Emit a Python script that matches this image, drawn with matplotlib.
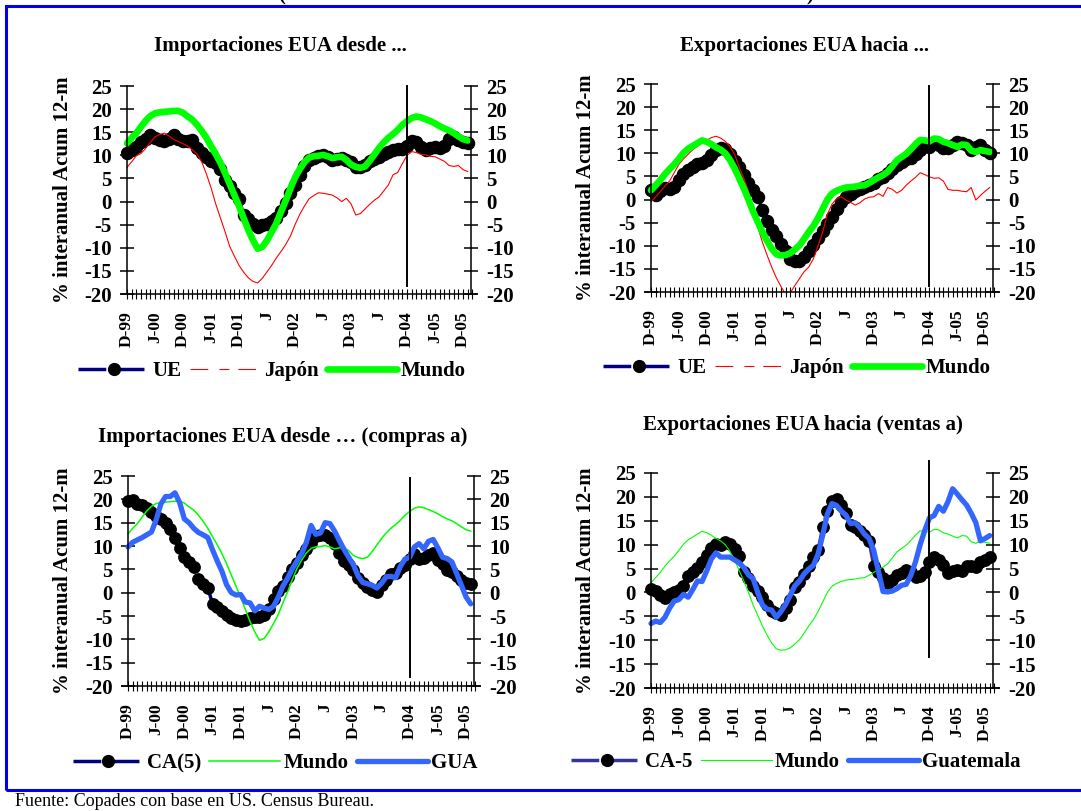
import matplotlib
matplotlib.use("Agg")
import matplotlib.pyplot as plt
from matplotlib.lines import Line2D
from matplotlib.patches import Rectangle

plt.rcParams['font.family'] = ['Liberation Serif', 'DejaVu Serif']
plt.rcParams['axes.unicode_minus'] = False

# ---------------- data (monthly, Dec-1999 .. Jan-2006) ----------------
tick_labels = ['D-99', 'J-00', 'D-00', 'J-01', 'D-01', 'J', 'D-02', 'J',
               'D-03', 'J', 'D-04', 'J-05', 'D-05']

imp_ue = [10.6, 11.2, 11.8, 12.8, 13.6, 14.3, 13.8, 13.3, 13.0, 13.5,
          14.3, 13.6, 13.0, 13.2, 13.3, 11.5, 10.6, 9.6, 8.8, 8.3,
          7.0, 4.6, 3.4, 1.8, 0.5, -2.9, -3.8, -4.8, -5.4, -5.1,
          -4.8, -4.3, -3.6, -2.0, -0.4, 1.8, 3.6, 5.8, 7.8, 8.9,
          9.4, 9.8, 10.1, 9.6, 9.0, 9.2, 9.4, 9.0, 8.6, 7.4,
          7.4, 8.0, 8.8, 9.1, 9.6, 10.2, 10.8, 11.2, 11.3, 11.4,
          12.0, 13.0, 12.9, 11.9, 11.2, 11.6, 11.8, 11.5, 12.0, 13.5,
          13.9, 13.3, 12.9, 12.6]

imp_japon = [7.4, 8.6, 9.9, 10.4, 11.5, 12.8, 14.0, 14.5, 14.8, 14.2,
             13.4, 13.0, 12.5, 12.0, 11.2, 10.3, 8.6, 6.0, 3.0, -0.5,
             -3.5, -6.5, -9.7, -11.8, -13.8, -15.3, -16.5, -17.3, -17.6, -16.6,
             -15.2, -13.8, -12.2, -10.8, -9.3, -7.5, -5.0, -2.8, -1.0, 0.6,
             1.3, 1.9, 1.8, 1.6, 1.4, 0.8, 0.0, 0.7, -0.5, -2.9,
             -2.6, -1.6, -0.6, 0.3, 1.0, 2.3, 3.6, 5.8, 6.3, 8.2,
             10.0, 10.8, 10.6, 10.2, 10.1, 9.8, 9.7, 9.2, 8.7, 7.8,
             7.6, 7.8, 6.9, 6.5]

imp_mundo = [12.6, 13.8, 14.8, 16.2, 17.5, 18.5, 19.1, 19.3, 19.4, 19.5,
             19.6, 19.6, 19.2, 18.4, 17.7, 16.6, 15.3, 13.8, 12.0, 10.3,
             8.4, 6.2, 3.8, 1.4, -1.0, -3.6, -6.2, -8.4, -10.2, -9.8,
             -8.4, -6.6, -4.7, -2.2, 0.2, 2.8, 5.2, 7.0, 8.5, 9.5,
             9.8, 9.9, 10.1, 9.8, 9.4, 9.6, 9.7, 9.0, 8.0, 7.5,
             7.3, 7.6, 8.8, 10.2, 11.6, 12.8, 13.8, 14.6, 15.5, 16.6,
             17.4, 18.1, 18.4, 18.2, 17.8, 17.4, 16.9, 16.3, 15.8, 15.4,
             14.8, 14.1, 13.5, 13.2]

exp_ue = [2.0, 1.0, 1.8, 2.4, 2.2, 2.8, 4.3, 5.6, 6.4, 7.0,
          7.6, 8.0, 8.6, 9.6, 10.8, 11.2, 11.0, 9.8, 8.4, 7.0,
          5.4, 3.6, 2.0, 0.6, -2.2, -4.6, -6.6, -7.8, -9.6, -11.2,
          -12.9, -13.4, -13.2, -12.4, -11.1, -9.8, -8.3, -6.8, -5.3, -3.8,
          -2.0, -0.6, 0.6, 1.3, 1.8, 2.3, 2.8, 3.1, 3.6, 4.4,
          4.9, 5.8, 6.6, 7.4, 8.2, 8.7, 8.9, 9.8, 10.8, 11.6,
          11.4, 12.3, 11.8, 11.2, 11.1, 11.8, 12.5, 12.3, 11.8, 10.8,
          11.3, 11.8, 10.8, 10.1]

exp_japon = [-0.5, 0.6, 1.7, 2.9, 4.0, 5.8, 7.6, 8.8, 9.8, 10.8,
             11.5, 12.3, 12.8, 13.4, 13.7, 13.3, 12.6, 11.5, 9.8, 7.0,
             4.6, 1.8, -2.6, -5.9, -9.2, -12.0, -14.6, -16.9, -18.8, -20.5,
             -20.2, -18.6, -17.1, -15.6, -14.6, -12.8, -10.0, -7.0, -3.2, -1.0,
             0.2, 0.6, -0.1, -0.6, -1.2, -0.7, 0.1, 0.5, 0.6, 1.3,
             0.7, 2.6, 2.2, 1.4, 2.0, 3.1, 4.0, 4.8, 5.8, 5.4,
             4.9, 4.6, 4.7, 4.0, 2.2, 2.0, 2.0, 1.8, 1.7, 2.6,
             -0.1, 0.9, 1.8, 2.6]

exp_mundo = [2.0, 3.1, 4.2, 5.5, 6.6, 7.6, 8.8, 10.1, 11.0, 11.6,
             12.2, 12.8, 12.5, 12.0, 11.3, 10.8, 10.0, 8.6, 6.8, 4.6,
             2.4, 0.0, -2.6, -4.8, -7.0, -8.9, -10.6, -11.8, -12.1, -12.0,
             -11.6, -10.8, -9.9, -8.5, -7.0, -5.7, -4.0, -2.0, 0.0, 1.3,
             1.9, 2.3, 2.6, 2.7, 2.8, 3.0, 3.1, 3.6, 4.2, 4.8,
             5.3, 6.0, 7.2, 8.5, 9.2, 9.9, 10.9, 12.0, 12.9, 12.8,
             12.6, 13.2, 13.1, 12.5, 12.2, 11.8, 11.4, 11.9, 11.8, 10.6,
             10.3, 10.7, 10.5, 10.3]

imp_ca5 = [19.6, 19.8, 19.0, 18.7, 18.2, 17.2, 16.4, 15.7, 15.0, 13.6,
           11.8, 9.6, 7.6, 6.6, 5.4, 3.0, 1.8, 1.1, -2.4, -3.1,
           -3.9, -4.8, -5.4, -5.9, -6.1, -5.9, -5.4, -5.3, -5.3, -4.7,
           -3.6, -1.4, 0.3, 1.4, 3.4, 5.1, 6.4, 8.0, 9.4, 10.6,
           12.1, 12.3, 12.3, 11.7, 10.5, 8.4, 6.8, 5.9, 4.9, 3.2,
           2.0, 1.3, 0.6, 0.1, 1.7, 2.8, 3.9, 4.2, 5.2, 6.0,
           7.2, 8.3, 7.2, 7.5, 8.1, 8.5, 7.1, 6.2, 4.8, 4.4,
           3.5, 2.8, 2.1, 1.9]

imp_gua = [9.8, 10.8, 11.3, 11.8, 12.4, 13.0, 15.6, 19.0, 20.6, 20.6,
           21.4, 19.3, 15.8, 15.0, 13.8, 12.9, 12.4, 11.8, 9.2, 6.8,
           4.6, 1.7, 0.0, -0.5, -0.4, -2.0, -2.2, -3.9, -2.9, -3.3,
           -3.6, -2.9, -1.0, 1.4, 3.1, 5.1, 6.8, 8.4, 10.8, 14.4,
           12.5, 12.8, 15.0, 14.8, 13.2, 11.2, 9.3, 7.6, 6.0, 3.6,
           2.2, 1.9, 1.6, 1.0, 2.0, 3.4, 3.5, 3.2, 5.6, 7.2,
           7.6, 9.8, 10.5, 9.4, 11.0, 11.4, 9.6, 7.6, 7.3, 6.6,
           4.1, 1.6, -0.9, -2.4]

exp_ca5 = [0.8, 0.2, -0.6, -1.2, -0.4, 0.0, 0.6, 1.4, 3.4, 4.2,
           5.2, 6.4, 7.8, 9.2, 10.2, 9.9, 10.5, 10.2, 9.1, 7.6,
           4.2, 3.0, 1.3, 0.2, -1.0, -2.6, -3.9, -4.2, -4.8, -3.2,
           -1.6, 1.2, 2.2, 3.8, 5.5, 7.4, 8.8, 13.6, 17.0, 19.2,
           19.6, 18.2, 16.6, 14.2, 13.6, 12.9, 12.0, 10.8, 5.6, 4.2,
           3.0, 1.9, 2.6, 3.6, 4.1, 4.8, 4.2, 3.3, 3.5, 4.3,
           6.4, 7.4, 6.8, 5.8, 4.0, 4.4, 4.6, 4.5, 5.5, 5.5,
           5.4, 6.4, 6.8, 7.4]

exp_gua = [-6.5, -6.0, -6.3, -5.2, -3.3, -1.8, -1.5, -0.4, -1.0, 0.6,
           2.4, 2.3, 4.5, 7.0, 8.3, 7.4, 7.4, 7.4, 6.8, 6.2,
           5.2, 3.7, 2.9, 0.0, -2.6, -3.5, -3.7, -5.2, -4.0, -2.5,
           -0.6, 1.4, 2.4, 3.9, 4.9, 5.7, 8.0, 12.0, 16.4, 18.6,
           18.2, 17.0, 16.2, 14.4, 14.6, 13.6, 12.2, 11.3, 8.8, 4.5,
           0.2, 0.1, 0.3, 0.8, 1.5, 1.7, 3.6, 6.4, 10.0, 13.0,
           15.6, 16.1, 18.0, 17.0, 19.0, 21.7, 20.6, 19.4, 18.3, 16.6,
           14.6, 10.8, 11.3, 11.9]

months = list(range(len(imp_ue)))
ref_month = 60  # D-04

# ---------------- figure ----------------
W, H = 1081, 811
fig = plt.figure(figsize=(W / 100, H / 100), dpi=100)
fig.patch.set_facecolor('white')

XMIN, XMAX, XR = -1.2, 75.0, 73.7
BOLD = dict(fontweight='bold')


def make_axes(x0, xr, ytop, ybot, ylabel_x):
    scale = (xr - x0) / XR
    left = x0 + XMIN * scale
    width = (XMAX - XMIN) * scale
    ax = fig.add_axes([left / W, 1 - ybot / H, width / W, (ybot - ytop) / H])
    ax.set_xlim(XMIN, XMAX)
    ax.set_ylim(-20, 25)
    ax.set_facecolor('none')
    ax.spines['top'].set_visible(False)
    ax.spines['left'].set_position(('data', 0))
    ax.spines['right'].set_position(('data', XR))
    ax.spines['bottom'].set_position(('data', -20))
    for s in ('left', 'right', 'bottom'):
        ax.spines[s].set_linewidth(1.1)
    ax.set_yticks(range(-20, 30, 5))
    ax.tick_params(axis='y', which='major', direction='inout', length=10,
                   width=1.1, labelsize=15, left=True, right=True,
                   labelleft=True, labelright=True, pad=6)
    ax.set_xticks(range(0, 73, 6))
    ax.set_xticklabels(tick_labels, rotation=90, fontsize=12.5, fontweight='bold')
    ax.set_xticks(range(0, 75), minor=True)
    ax.tick_params(axis='x', which='both', direction='inout', length=6.5,
                   width=0.8, pad=9)
    for lab in ax.get_yticklabels():
        lab.set_fontweight('bold')
    ax.set_ylabel('% interanual Acum 12-m', fontsize=15, fontweight='bold',
                  va='center')
    ax.yaxis.set_label_coords((ylabel_x - left) / width, 0.5)
    return ax


def fig_title(text, xc, yc, size=15):
    fig.text(xc / W, 1 - yc / H, text, ha='center', va='center',
             fontsize=size, **BOLD)


def vline(ax, y0, y1):
    ax.plot([ref_month, ref_month], [y0, y1], color='black', lw=1.4,
            clip_on=False, zorder=5)


NAVY = '#000080'
GREEN = '#00FF00'
BLUE = '#3366FF'
RED = '#FF0000'

# ---- top-left: imports ----
ax1 = make_axes(127, 471, 86, 294, 63.5)
ax1.plot(months, imp_ue, color=NAVY, lw=2.5, dashes=(8, 3), marker='o',
         ms=8.7, mfc='black', mec='black')
ax1.plot(months, imp_japon, color=RED, lw=0.8)
ax1.plot(months, imp_mundo, color=GREEN, lw=4.8, solid_capstyle='round')
vline(ax1, 25, -18.2)
fig_title('Importaciones EUA desde ...', 280, 46)

# ---- top-right: exports ----
ax2 = make_axes(651, 993, 84, 292, 586)
ax2.plot(months, exp_ue, color=NAVY, lw=2.5, dashes=(8, 3), marker='o',
         ms=8.7, mfc='black', mec='black')
ax2.plot(months, exp_japon, color=RED, lw=0.8)
ax2.plot(months, exp_mundo, color=GREEN, lw=4.8, solid_capstyle='round')
vline(ax2, 24.6, -18.6)
fig_title('Exportaciones EUA hacia ...', 804, 46)

# ---- bottom-left: imports from CA ----
ax3 = make_axes(128, 474, 476, 686, 63.5)
ax3.plot(months, imp_ca5, color=NAVY, lw=2.5, dashes=(8, 3), marker='o',
         ms=8.2, mfc='black', mec='black')
ax3.plot(months, imp_mundo, color=GREEN, lw=1.1)
ax3.plot(months, imp_gua, color=BLUE, lw=3.8, solid_capstyle='round')
vline(ax3, 24.6, -18.1)
fig_title('Importaciones EUA desde \u2026 (compras a)', 283, 437)

# ---- bottom-right: exports to CA ----
ax4 = make_axes(651, 993, 473, 688, 586)
ax4.plot(months, exp_ca5, color='#333399', lw=2.5, dashes=(8, 3), marker='o',
         ms=8.2, mfc='black', mec='black')
ax4.plot(months, exp_mundo, color=GREEN, lw=0.8)
ax4.plot(months, exp_gua, color=BLUE, lw=3.8, solid_capstyle='round')
vline(ax4, 27.5, -13.5)
fig_title('Exportaciones EUA hacia (ventas a)', 803, 425)

# ---- legends ----
def legend(handles, labels, xc, yc):
    fig.legend(handles, labels, loc='center', bbox_to_anchor=(xc / W, 1 - yc / H),
               ncol=3, frameon=False, handlelength=3.4, handletextpad=0.15,
               columnspacing=0.4, prop=dict(size=15, weight='bold'))


def h_marker(color):
    return Line2D([], [], color=color, lw=2.5, dashes=(8, 3), marker='o', ms=8.5,
                  mfc='black', mec='black')


h_jap = Line2D([], [], color=RED, lw=0.8, dashes=(16, 10, 9, 8))
h_mundo_thick = Line2D([], [], color=GREEN, lw=4.8, solid_capstyle='round')
h_mundo_thin = Line2D([], [], color=GREEN, lw=1.1)
h_mundo_thin2 = Line2D([], [], color=GREEN, lw=0.8)
h_gua = Line2D([], [], color=BLUE, lw=3.8, solid_capstyle='round')

legend([h_marker(NAVY), h_jap, h_mundo_thick], ['UE', 'Japón', 'Mundo'], 272, 371)
legend([h_marker(NAVY), h_jap, h_mundo_thick], ['UE', 'Japón', 'Mundo'], 797, 368)
legend([h_marker(NAVY), h_mundo_thin, h_gua], ['CA(5)', 'Mundo', 'GUA'], 275, 763)
legend([h_marker('#333399'), h_mundo_thin2, h_gua], ['CA-5', 'Mundo', 'Guatemala'], 796, 762)

# ---- frame, cut-off header, source ----
fig.add_artist(Rectangle((6 / W, 1 - 790 / H), (W + 20) / W, 784 / H,
                         transform=fig.transFigure, fill=False,
                         edgecolor='#0000EE', lw=2.2, clip_on=False))
fig.text(282 / W, 1.0, '(', ha='center', va='baseline', fontsize=15, **BOLD)
fig.text(810 / W, 1.0, ')', ha='center', va='baseline', fontsize=15, **BOLD)
fig.text(15 / W, 1 - 801 / H, 'Fuente: Copades con base en US. Census Bureau.',
         ha='left', va='center', fontsize=13)

fig.savefig('out.png', dpi=100)
